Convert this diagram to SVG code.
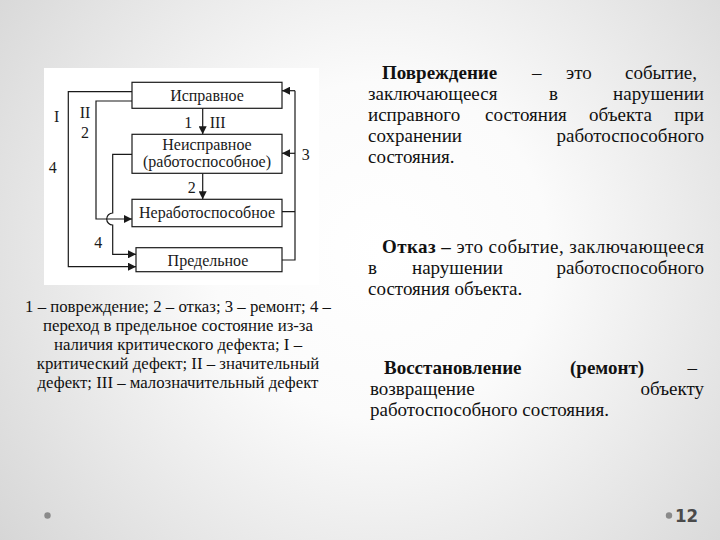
<svg xmlns="http://www.w3.org/2000/svg" width="720" height="540" viewBox="0 0 720 540">
<defs>
<radialGradient id="bg" cx="380" cy="250" r="480" gradientUnits="userSpaceOnUse">
<stop offset="0" stop-color="#ffffff"/>
<stop offset="0.35" stop-color="#fbfbfb"/>
<stop offset="1" stop-color="#d6d6d6"/>
</radialGradient>
<marker id="ah" viewBox="0 0 10 10" refX="10" refY="5" markerWidth="8" markerHeight="8" markerUnits="userSpaceOnUse" orient="auto">
<path d="M0,0 L10,5 L0,10 Z" fill="#1a1a1a"/>
</marker>
<style>
.box{fill:#ffffff;stroke:#1a1a1a;stroke-width:1.2}
.bt{font-family:"Liberation Serif","Times New Roman",serif;font-size:16px;fill:#1a1a1a;text-anchor:middle}
.lb{font-family:"Liberation Serif","Times New Roman",serif;font-size:16px;fill:#1a1a1a;text-anchor:middle}
.ln{fill:none;stroke:#1a1a1a;stroke-width:1.2}
.ar{marker-end:url(#ah)}
.cap{font-family:"Liberation Serif","Times New Roman",serif;font-size:16.8px;fill:#111;text-anchor:middle}
.rt{font-family:"Liberation Serif","Times New Roman",serif;font-size:19px;fill:#111}
.b{font-weight:bold}
.e{text-anchor:end}
</style>
</defs>
<rect width="720" height="540" fill="url(#bg)"/>
<rect x="44" y="68" width="275" height="217" fill="#ffffff"/>

<g id="connectors">
<path class="ln ar" d="M132,91.7 H68.3 V266.7 H136"/>
<path class="ln ar" d="M132,101 H96 V219 H132"/>
<path class="ln ar" d="M132,154.3 H112.7 V213 A6,6 0 0 0 112.7,225 V254.3 H136"/>
<path class="ln ar" d="M202.7,108.3 V134.3"/>
<path class="ln ar" d="M202.7,173.3 V199.3"/>
<path class="ln" d="M282,211.7 H295 M282,260 H295 V90.7"/>
<path class="ln ar" d="M295,90.7 H282"/>
<path class="ln ar" d="M295,153.3 H282"/>
</g>

<g id="n-ispravnoe">
<rect class="box" x="132" y="82.3" width="150" height="26"/>
<text class="bt" x="207" y="100.5">Исправное</text>
</g>
<g id="n-neispravnoe">
<rect class="box" x="132" y="134.3" width="150" height="39"/>
<text class="bt" x="207" y="150">Неисправное</text>
<text class="bt" x="207" y="166.5">(работоспособное)</text>
</g>
<g id="n-nerabotosposobnoe">
<rect class="box" x="132" y="199.3" width="150" height="27.4"/>
<text class="bt" x="207" y="217.5">Неработоспособное</text>
</g>
<g id="n-predelnoe">
<rect class="box" x="136" y="247.7" width="146" height="24"/>
<text class="bt" x="208" y="266">Предельное</text>
</g>

<g id="labels">
<text class="lb" x="56.7" y="121.5">I</text>
<text class="lb" x="85" y="118.3">II</text>
<text class="lb" x="85" y="137.7">2</text>
<text class="lb" x="52.7" y="173.3">4</text>
<text class="lb" x="188.3" y="128.3">1</text>
<text class="lb" x="217.7" y="128.3">III</text>
<text class="lb" x="191.7" y="193.3">2</text>
<text class="lb" x="305.7" y="160">3</text>
<text class="lb" x="98.3" y="247.7">4</text>
</g>

<g id="caption">
<text class="cap" x="178" y="312">1 – повреждение; 2 – отказ; 3 – ремонт; 4 –</text>
<text class="cap" x="178" y="331">переход в предельное состояние из-за</text>
<text class="cap" x="178" y="350">наличия критического дефекта; I –</text>
<text class="cap" x="178" y="369">критический дефект; II – значительный</text>
<text class="cap" x="178" y="388">дефект; III – малозначительный дефект</text>
</g>

<g id="def-povrezhdenie">
<text class="rt b" x="382" y="79">Повреждение</text>
<text class="rt" x="532" y="79">–</text>
<text class="rt" x="566" y="79">это</text>
<text class="rt e" x="697" y="79">событие,</text>
<text class="rt" x="368" y="100">заключающееся</text>
<text class="rt" x="549" y="100">в</text>
<text class="rt e" x="704" y="100">нарушении</text>
<text class="rt" x="368" y="121">исправного</text>
<text class="rt" x="485" y="121">состояния</text>
<text class="rt" x="589" y="121">объекта</text>
<text class="rt e" x="704" y="121">при</text>
<text class="rt" x="368" y="142">сохранении</text>
<text class="rt e" x="704" y="142">работоспособного</text>
<text class="rt" x="368" y="162.5">состояния.</text>
</g>

<g id="def-otkaz">
<text class="rt" x="382" y="252.5" textLength="322" lengthAdjust="spacing"><tspan class="b">Отказ –</tspan> это событие, заключающееся</text>
<text class="rt" x="368" y="273.5">в</text>
<text class="rt" x="412" y="273.5">нарушении</text>
<text class="rt e" x="704" y="273.5">работоспособного</text>
<text class="rt" x="368" y="294.5">состояния объекта.</text>
</g>

<g id="def-vosstanovlenie">
<text class="rt b" x="384" y="373.5">Восстановление</text>
<text class="rt b" x="570" y="373.5">(ремонт)</text>
<text class="rt e" x="697" y="373.5">–</text>
<text class="rt" x="370" y="395">возвращение</text>
<text class="rt e" x="704" y="395">объекту</text>
<text class="rt" x="370" y="415.5">работоспособного состояния.</text>
</g>

<g id="footer">
<circle cx="47.5" cy="515.5" r="3.2" fill="#8a8a8a"/>
<circle cx="669" cy="515.5" r="3.2" fill="#8a8a8a"/>
<text x="675" y="522" font-family="'DejaVu Sans Condensed','Liberation Sans',sans-serif" font-size="18.5" font-weight="bold" fill="#4a4a4a">12</text>
</g>
</svg>
